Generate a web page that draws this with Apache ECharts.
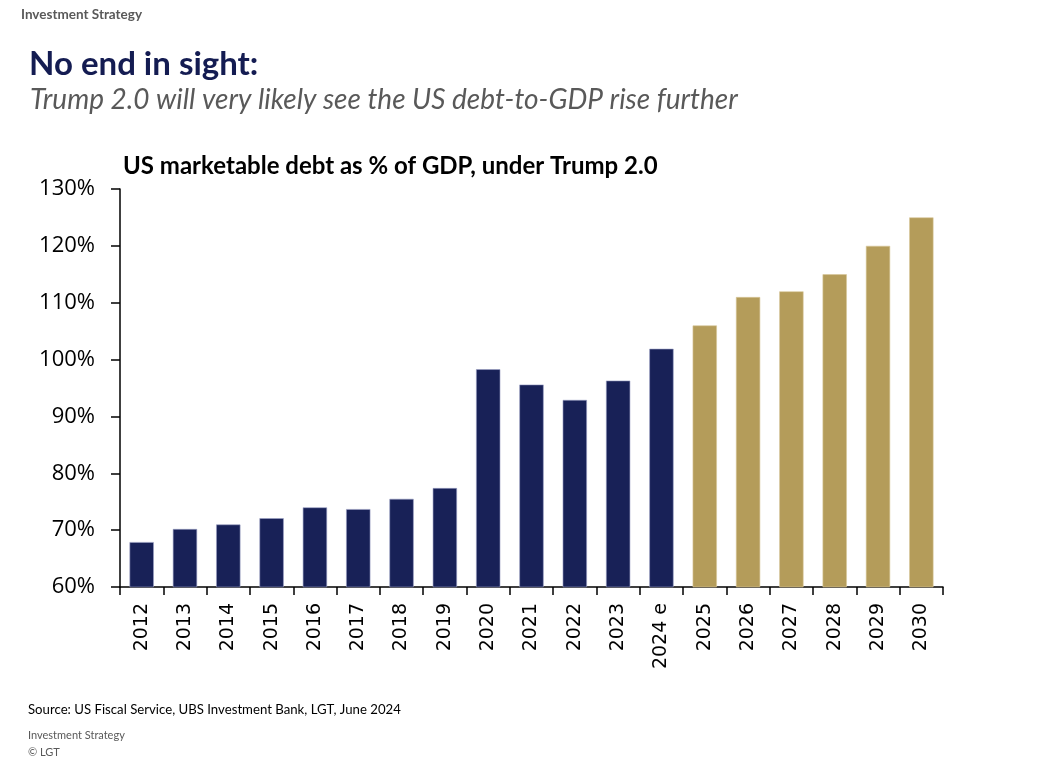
<!DOCTYPE html>
<html>
<head>
<meta charset="utf-8">
<script src="https://cdn.jsdelivr.net/npm/echarts@6/dist/echarts.min.js"></script>
<style>
html,body{margin:0;padding:0;background:#fff;}
#chart{width:1054px;height:764px;}
</style>
</head>
<body>
<div id="chart"></div>
<script>
const categories = ['2012','2013','2014','2015','2016','2017','2018','2019','2020','2021','2022','2023','2024 e','2025','2026','2027','2028','2029','2030'];
const historical = [67.9, 70.2, 71.0, 72.1, 74.0, 73.7, 75.5, 77.4, 98.3, 95.6, 92.9, 96.3, 101.9, null, null, null, null, null, null];
const projected = [null, null, null, null, null, null, null, null, null, null, null, null, null, 106.0, 111.0, 112.0, 115.0, 120.0, 125.0];
const yTicks = [60, 70, 80, 90, 100, 110, 120, 130];

const NAVY = '#182157';
const GOLD = '#b49c5a';
const chart = echarts.init(document.getElementById('chart'), null, {renderer:'canvas'});
const FONT = 'Lato';

chart.setOption({
  animation: false,
  backgroundColor: '#ffffff',
  title: [
    {text:'Investment Strategy', left:21, top:8, padding:0, textStyle:{fontFamily:FONT, fontSize:13.5, fontWeight:'bold', color:'#595959'}},
    {text:'No end in sight:', left:29, top:48, padding:0, textStyle:{fontFamily:FONT, fontSize:33, fontWeight:'bold', color:'#141c52'}},
    {text:'Trump 2.0 will very likely see the US debt-to-GDP rise further', left:30, top:86, padding:0, textStyle:{fontFamily:FONT, fontSize:28, fontStyle:'italic', fontWeight:'normal', color:'#595959'}},
    {text:'US marketable debt as % of GDP, under Trump 2.0', left:123, top:154, padding:0, textStyle:{fontFamily:FONT, fontSize:24, fontWeight:'bold', color:'#000'}},
    {text:'Source: US Fiscal Service, UBS Investment Bank, LGT, June 2024', left:28, top:703, padding:0, textStyle:{fontFamily:FONT, fontSize:13.2, fontWeight:'normal', color:'#000'}},
    {text:'Investment Strategy', left:28, top:730, padding:0, textStyle:{fontFamily:FONT, fontSize:11, fontWeight:'normal', color:'#595959'}},
    {text:'© LGT', left:28, top:747, padding:0, textStyle:{fontFamily:FONT, fontSize:11, fontWeight:'normal', color:'#595959'}}
  ],
  grid: {left:120, right:111, top:189, bottom:177, containLabel:false},
  xAxis: {
    type:'category',
    data: categories,
    axisLine:{show:true, lineStyle:{color:'#000', width:1.5}},
    axisTick:{show:true, alignWithLabel:false, length:8, lineStyle:{color:'#000', width:1.5}},
    axisLabel:{rotate:90, margin:16, color:'#000', fontFamily:'DejaVu Sans', fontSize:19, interval:0}
  },
  yAxis: {
    type:'value',
    min: yTicks[0], max: yTicks[yTicks.length-1], interval:10,
    axisLine:{show:true, lineStyle:{color:'#000', width:1.5}},
    axisTick:{show:true, length:9, lineStyle:{color:'#000', width:1.5}},
    splitLine:{show:false},
    axisLabel:{margin:25, color:'#000', fontFamily:'Open Sans', fontSize:22, formatter: v => v + '%'}
  },
  series: [
    {type:'bar', data: historical, stack:'a', barWidth:'56%', itemStyle:{color:NAVY, borderColor:'#9aa0c4', borderWidth:0.6}},
    {type:'bar', data: projected, stack:'a', barWidth:'56%', itemStyle:{color:GOLD, borderColor:'#d8c89a', borderWidth:0.6}}
  ]
});
</script>
</body>
</html>
